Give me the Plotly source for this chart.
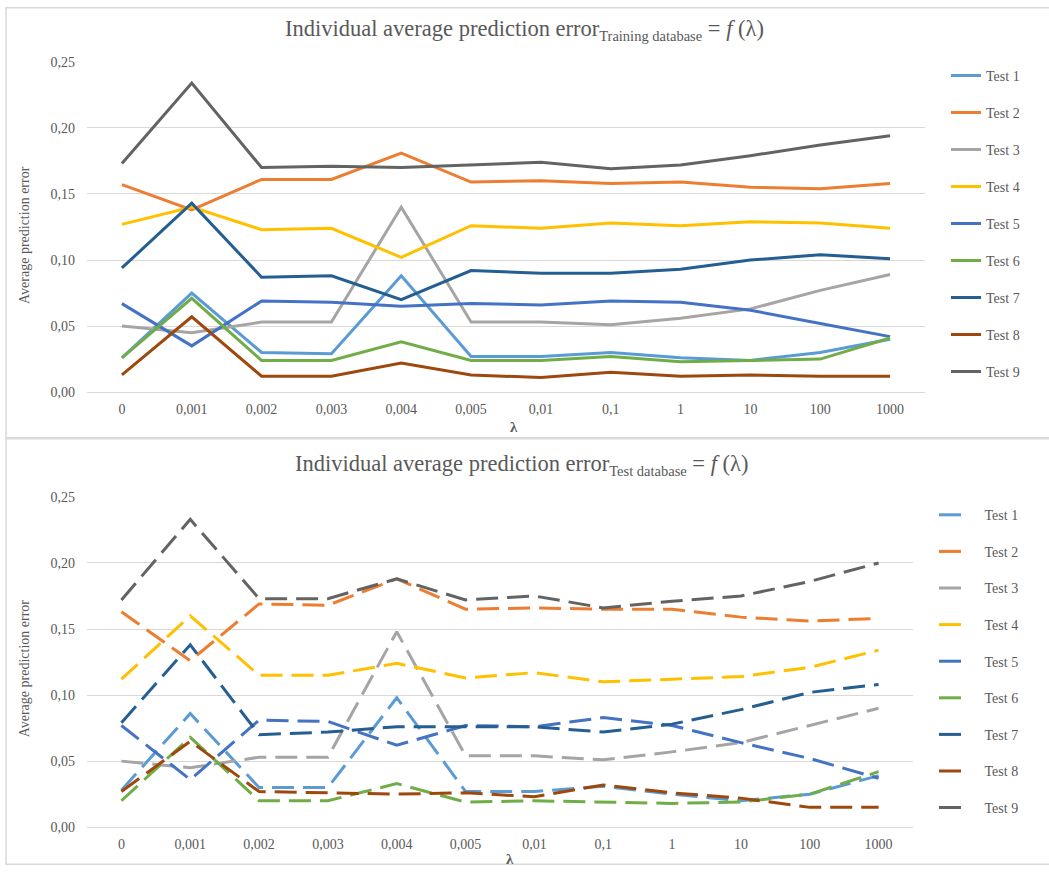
import plotly.graph_objects as go

W, H = 1049, 873

lambdas = ["0", "0,001", "0,002", "0,003", "0,004", "0,005", "0,01", "0,1", "1", "10", "100", "1000"]
series_names = ["Test 1", "Test 2", "Test 3", "Test 4", "Test 5", "Test 6", "Test 7", "Test 8", "Test 9"]
colors = ["#5B9BD5", "#ED7D31", "#A5A5A5", "#FFC000", "#4472C4", "#70AD47", "#255E91", "#9E480E", "#636363"]

# Training database
train_test1 = [0.026, 0.075, 0.030, 0.029, 0.088, 0.027, 0.027, 0.030, 0.026, 0.024, 0.030, 0.040]
train_test2 = [0.157, 0.138, 0.161, 0.161, 0.181, 0.159, 0.160, 0.158, 0.159, 0.155, 0.154, 0.158]
train_test3 = [0.050, 0.045, 0.053, 0.053, 0.140, 0.053, 0.053, 0.051, 0.056, 0.063, 0.077, 0.089]
train_test4 = [0.127, 0.140, 0.123, 0.124, 0.102, 0.126, 0.124, 0.128, 0.126, 0.129, 0.128, 0.124]
train_test5 = [0.067, 0.035, 0.069, 0.068, 0.065, 0.067, 0.066, 0.069, 0.068, 0.062, 0.052, 0.042]
train_test6 = [0.026, 0.071, 0.024, 0.024, 0.038, 0.024, 0.024, 0.027, 0.023, 0.024, 0.025, 0.041]
train_test7 = [0.094, 0.143, 0.087, 0.088, 0.070, 0.092, 0.090, 0.090, 0.093, 0.100, 0.104, 0.101]
train_test8 = [0.013, 0.057, 0.012, 0.012, 0.022, 0.013, 0.011, 0.015, 0.012, 0.013, 0.012, 0.012]
train_test9 = [0.173, 0.234, 0.170, 0.171, 0.170, 0.172, 0.174, 0.169, 0.172, 0.179, 0.187, 0.194]

# Test database
test_test1 = [0.028, 0.086, 0.030, 0.030, 0.098, 0.027, 0.027, 0.031, 0.025, 0.020, 0.025, 0.039]
test_test2 = [0.163, 0.126, 0.169, 0.168, 0.188, 0.165, 0.166, 0.165, 0.165, 0.159, 0.156, 0.158]
test_test3 = [0.050, 0.045, 0.053, 0.053, 0.148, 0.054, 0.054, 0.051, 0.057, 0.064, 0.077, 0.090]
test_test4 = [0.112, 0.160, 0.115, 0.115, 0.124, 0.113, 0.117, 0.110, 0.112, 0.114, 0.121, 0.134]
test_test5 = [0.077, 0.036, 0.081, 0.080, 0.062, 0.077, 0.076, 0.083, 0.077, 0.064, 0.052, 0.037]
test_test6 = [0.020, 0.068, 0.020, 0.020, 0.033, 0.019, 0.020, 0.019, 0.018, 0.019, 0.025, 0.042]
test_test7 = [0.079, 0.138, 0.070, 0.072, 0.076, 0.076, 0.076, 0.072, 0.078, 0.089, 0.102, 0.108]
test_test8 = [0.027, 0.065, 0.027, 0.026, 0.025, 0.026, 0.023, 0.032, 0.026, 0.022, 0.015, 0.015]
test_test9 = [0.172, 0.233, 0.173, 0.173, 0.188, 0.172, 0.175, 0.166, 0.171, 0.175, 0.186, 0.200]

y_ticks = [0, 0.05, 0.10, 0.15, 0.20, 0.25]

train_series = [train_test1, train_test2, train_test3, train_test4, train_test5,
                train_test6, train_test7, train_test8, train_test9]
test_series = [test_test1, test_test2, test_test3, test_test4, test_test5,
               test_test6, test_test7, test_test8, test_test9]

FONT = "Liberation Serif"
TXT = "#595959"
GRID = "#D9D9D9"


def px(x):
    return x / W


def py(y):
    # vertical placement, tuned to the photographed page
    yp = (y - 7.2) / 0.982
    yp = min(max(yp, 0.8), H - 0.8)
    return 1 - yp / H


fig = go.Figure()

for i, (name, vals) in enumerate(zip(series_names, train_series)):
    fig.add_trace(go.Scatter(
        x=lambdas, y=vals, name=name, mode="lines",
        line=dict(color=colors[i], width=3),
        xaxis="x", yaxis="y", legend="legend", legendgroup="a%d" % i,
        hoverinfo="skip"))

for i, (name, vals) in enumerate(zip(series_names, test_series)):
    fig.add_trace(go.Scatter(
        x=lambdas, y=vals, name="\u00a0\u00a0\u00a0" + name, mode="lines",
        line=dict(color=colors[i], width=3, dash="22px,9px"),
        xaxis="x2", yaxis="y2", legend="legend2", legendgroup="b%d" % i,
        hoverinfo="skip"))

axis_common_x = dict(
    type="category", categoryorder="array", categoryarray=lambdas,
    range=[-0.5, len(lambdas) - 0.5], showgrid=False, zeroline=False,
    showline=True, linecolor=GRID, linewidth=1, ticks="",
    ticklabelstandoff=4, tickfont=dict(family=FONT, size=14, color=TXT),
    fixedrange=True)
axis_common_y = dict(
    range=[0, 0.25], tickvals=y_ticks, tickformat=".2f",
    showgrid=True, gridcolor=GRID, gridwidth=1, zeroline=False,
    showline=False, ticks="", ticklabelstandoff=11,
    tickfont=dict(family=FONT, size=14, color=TXT), fixedrange=True)

fig.update_layout(
    width=W, height=H, autosize=False,
    margin=dict(l=0, r=0, t=0, b=0),
    paper_bgcolor="white", plot_bgcolor="white",
    separators=", ",
    font=dict(family=FONT, color=TXT),
    xaxis=dict(domain=[px(87), px(925)], anchor="y", **axis_common_x),
    yaxis=dict(domain=[py(392), py(62)], anchor="x", **axis_common_y),
    xaxis2=dict(domain=[px(87), px(913)], anchor="y2", **axis_common_x),
    yaxis2=dict(domain=[py(826.7), py(496.7)], anchor="x2", **axis_common_y),
    legend=dict(x=px(946), y=py(60), xanchor="left", yanchor="top",
                font=dict(family=FONT, size=14, color=TXT),
                tracegroupgap=15.8, itemwidth=30, bgcolor="rgba(0,0,0,0)"),
    legend2=dict(x=px(934), y=py(499), xanchor="left", yanchor="top",
                 font=dict(family=FONT, size=14, color=TXT),
                 tracegroupgap=15.4, itemwidth=30, bgcolor="rgba(0,0,0,0)"),
    showlegend=True,
)

# chart frames
fig.add_shape(type="rect", xref="paper", yref="paper",
              x0=px(6), x1=px(1060), y0=py(437.5), y1=py(4.5),
              line=dict(color=GRID, width=1.5), layer="below")
fig.add_shape(type="rect", xref="paper", yref="paper",
              x0=px(6), x1=px(1060), y0=py(871.5), y1=py(438.5),
              line=dict(color=GRID, width=1.5), layer="below")

annos = [
    dict(x=px(524), y=py(30),
         text="Individual average prediction error<sub><span style='font-size:14.5px'>Training database</span></sub> = <i>f</i> (λ)",
         font=dict(family=FONT, size=22.5, color=TXT)),
    dict(x=px(521), y=py(465),
         text="Individual average prediction error<sub><span style='font-size:14.5px'>Test database</span></sub> = <i>f</i> (λ)",
         font=dict(family=FONT, size=22.5, color=TXT)),
    dict(x=px(25), y=py(235), text="Average prediction error", textangle=-90,
         font=dict(family=FONT, size=14, color=TXT)),
    dict(x=px(24), y=py(668), text="Average prediction error", textangle=-90,
         font=dict(family=FONT, size=14, color=TXT)),
    dict(x=px(514), y=py(427), text="<b>λ</b>",
         font=dict(family=FONT, size=15, color=TXT)),
    dict(x=px(510), y=py(858), text="<b>λ</b>",
         font=dict(family=FONT, size=15, color=TXT)),
]
for a in annos:
    fig.add_annotation(xref="paper", yref="paper", showarrow=False,
                       xanchor="center", yanchor="middle", **a)

fig.write_html(
    "out.html",
    config={"displayModeBar": False},
    post_script="document.body.style.margin='0';document.body.style.overflow='hidden';",
)
